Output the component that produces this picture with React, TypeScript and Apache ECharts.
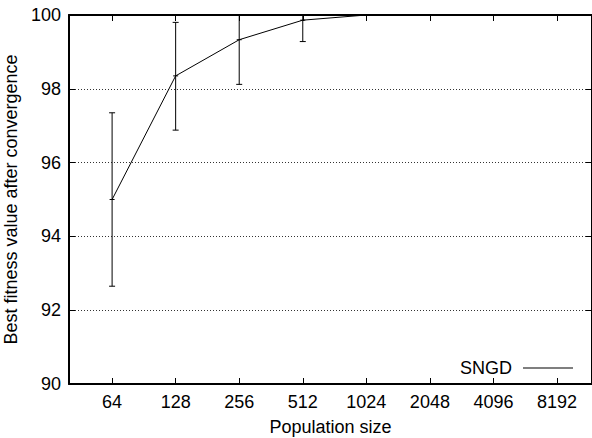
import React, { useEffect, useRef } from "react";
import * as echarts from "echarts";

const populationSizes = [64, 128, 256, 512, 1024, 2048, 4096, 8192];
const meanFitness = [95.0, 98.35, 99.33, 99.86, 100, 100, 100, 100];
const lowFitness = [92.65, 96.88, 98.12, 99.28, 100, 100, 100, 100];
const highFitness = [97.35, 99.8, 100.54, 100.44, 100, 100, 100, 100];
const yTicks = [90, 92, 94, 96, 98, 100];
const xRange = [40, 12000];
const seriesName = "SNGD";

const FONT = "'Liberation Sans', Arial, Helvetica, sans-serif";

export default function App() {
  const ref = useRef<HTMLDivElement>(null);
  useEffect(() => {
    if (!ref.current) return;
    const chart = echarts.init(ref.current, null, { renderer: "svg" });
    const lx = populationSizes.map((p) => Math.log2(p));
    const lineData = lx.map((x, i) => [x, meanFitness[i]]);
    const errData = lx.map((x, i) => [x, meanFitness[i], lowFitness[i], highFitness[i]]);
    const xMin = Math.log2(xRange[0]);
    const xMax = Math.log2(xRange[1]);
    const fmt = (v: number) => String(Math.round(Math.pow(2, v)));
    const baseX = {
      type: "value",
      min: xMin,
      max: xMax,
      splitLine: { show: false },
      axisLine: { show: true, onZero: false, lineStyle: { color: "#000", width: 2 } },
      axisTick: { show: true, inside: true, length: 6, customValues: lx, lineStyle: { color: "#000", width: 1 } },
    };
    const baseY = {
      type: "value",
      min: yTicks[0],
      max: yTicks[yTicks.length - 1],
      interval: 2,
      axisLine: { show: true, lineStyle: { color: "#000", width: 2 } },
      axisTick: { show: true, inside: true, length: 6, lineStyle: { color: "#000", width: 1 } },
    };
    chart.setOption({
      animation: false,
      textStyle: { fontFamily: FONT },
      grid: { left: 69, right: 0, top: 15, bottom: 54, containLabel: false, outerBoundsMode: "none" },
      legend: {
        data: [{ name: seriesName, icon: "rect" }],
        right: 19,
        top: 359,
        align: "right",
        itemWidth: 50,
        itemHeight: 1,
        padding: 0,
        textStyle: { fontFamily: FONT, fontSize: 18, color: "#000", padding: [0, 6, 0, 0] },
      },
      xAxis: [
        {
          ...baseX,
          position: "bottom",
          axisLabel: { show: true, customValues: lx, formatter: fmt, fontSize: 18, color: "#000", margin: 9, fontFamily: FONT },
          name: "Population size",
          nameLocation: "middle",
          nameGap: 34,
          nameTextStyle: { fontSize: 18, color: "#000", fontFamily: FONT },
        },
        {
          ...baseX,
          position: "top",
          axisLabel: { show: false },
        },
      ],
      yAxis: [
        {
          ...baseY,
          position: "left",
          axisLabel: { show: true, fontSize: 18, color: "#000", margin: 8, fontFamily: FONT },
          splitLine: { show: true, lineStyle: { color: "#333", width: 1, type: [1, 2] } },
          name: "Best fitness value after convergence",
          nameLocation: "middle",
          nameRotate: 90,
          nameGap: 38,
          nameTextStyle: { fontSize: 18, color: "#000", fontFamily: FONT },
        },
        {
          ...baseY,
          position: "right",
          axisLabel: { show: false },
          splitLine: { show: false },
        },
      ],
      series: [
        {
          name: seriesName,
          type: "line",
          data: lineData,
          symbol: "none",
          lineStyle: { color: "#000", width: 1 },
          itemStyle: { color: "#000" },
          clip: true,
          z: 3,
        },
        {
          type: "custom",
          data: errData,
          clip: true,
          encode: { x: 0, y: [1, 2, 3] },
          z: 4,
          renderItem: (params: any, api: any) => {
            const x = api.value(0);
            const c = api.coord([x, api.value(1)]);
            const lo = api.coord([x, api.value(2)]);
            const hi = api.coord([x, api.value(3)]);
            const cap = 3;
            const m = 2.5;
            const st = { stroke: "#000", lineWidth: 1, fill: null };
            return {
              type: "group",
              children: [
                { type: "line", shape: { x1: c[0], y1: lo[1], x2: c[0], y2: hi[1] }, style: st },
                { type: "line", shape: { x1: c[0] - cap, y1: lo[1], x2: c[0] + cap, y2: lo[1] }, style: st },
                { type: "line", shape: { x1: c[0] - cap, y1: hi[1], x2: c[0] + cap, y2: hi[1] }, style: st },
                { type: "line", shape: { x1: c[0] - m, y1: c[1], x2: c[0] + m, y2: c[1] }, style: st },
              ],
            };
          },
        },
      ],
    });
    return () => chart.dispose();
  }, []);
  return (
    <div
      ref={ref}
      style={{ position: "fixed", left: 0, top: 0, width: 592, height: 438, background: "#fff" }}
    />
  );
}
